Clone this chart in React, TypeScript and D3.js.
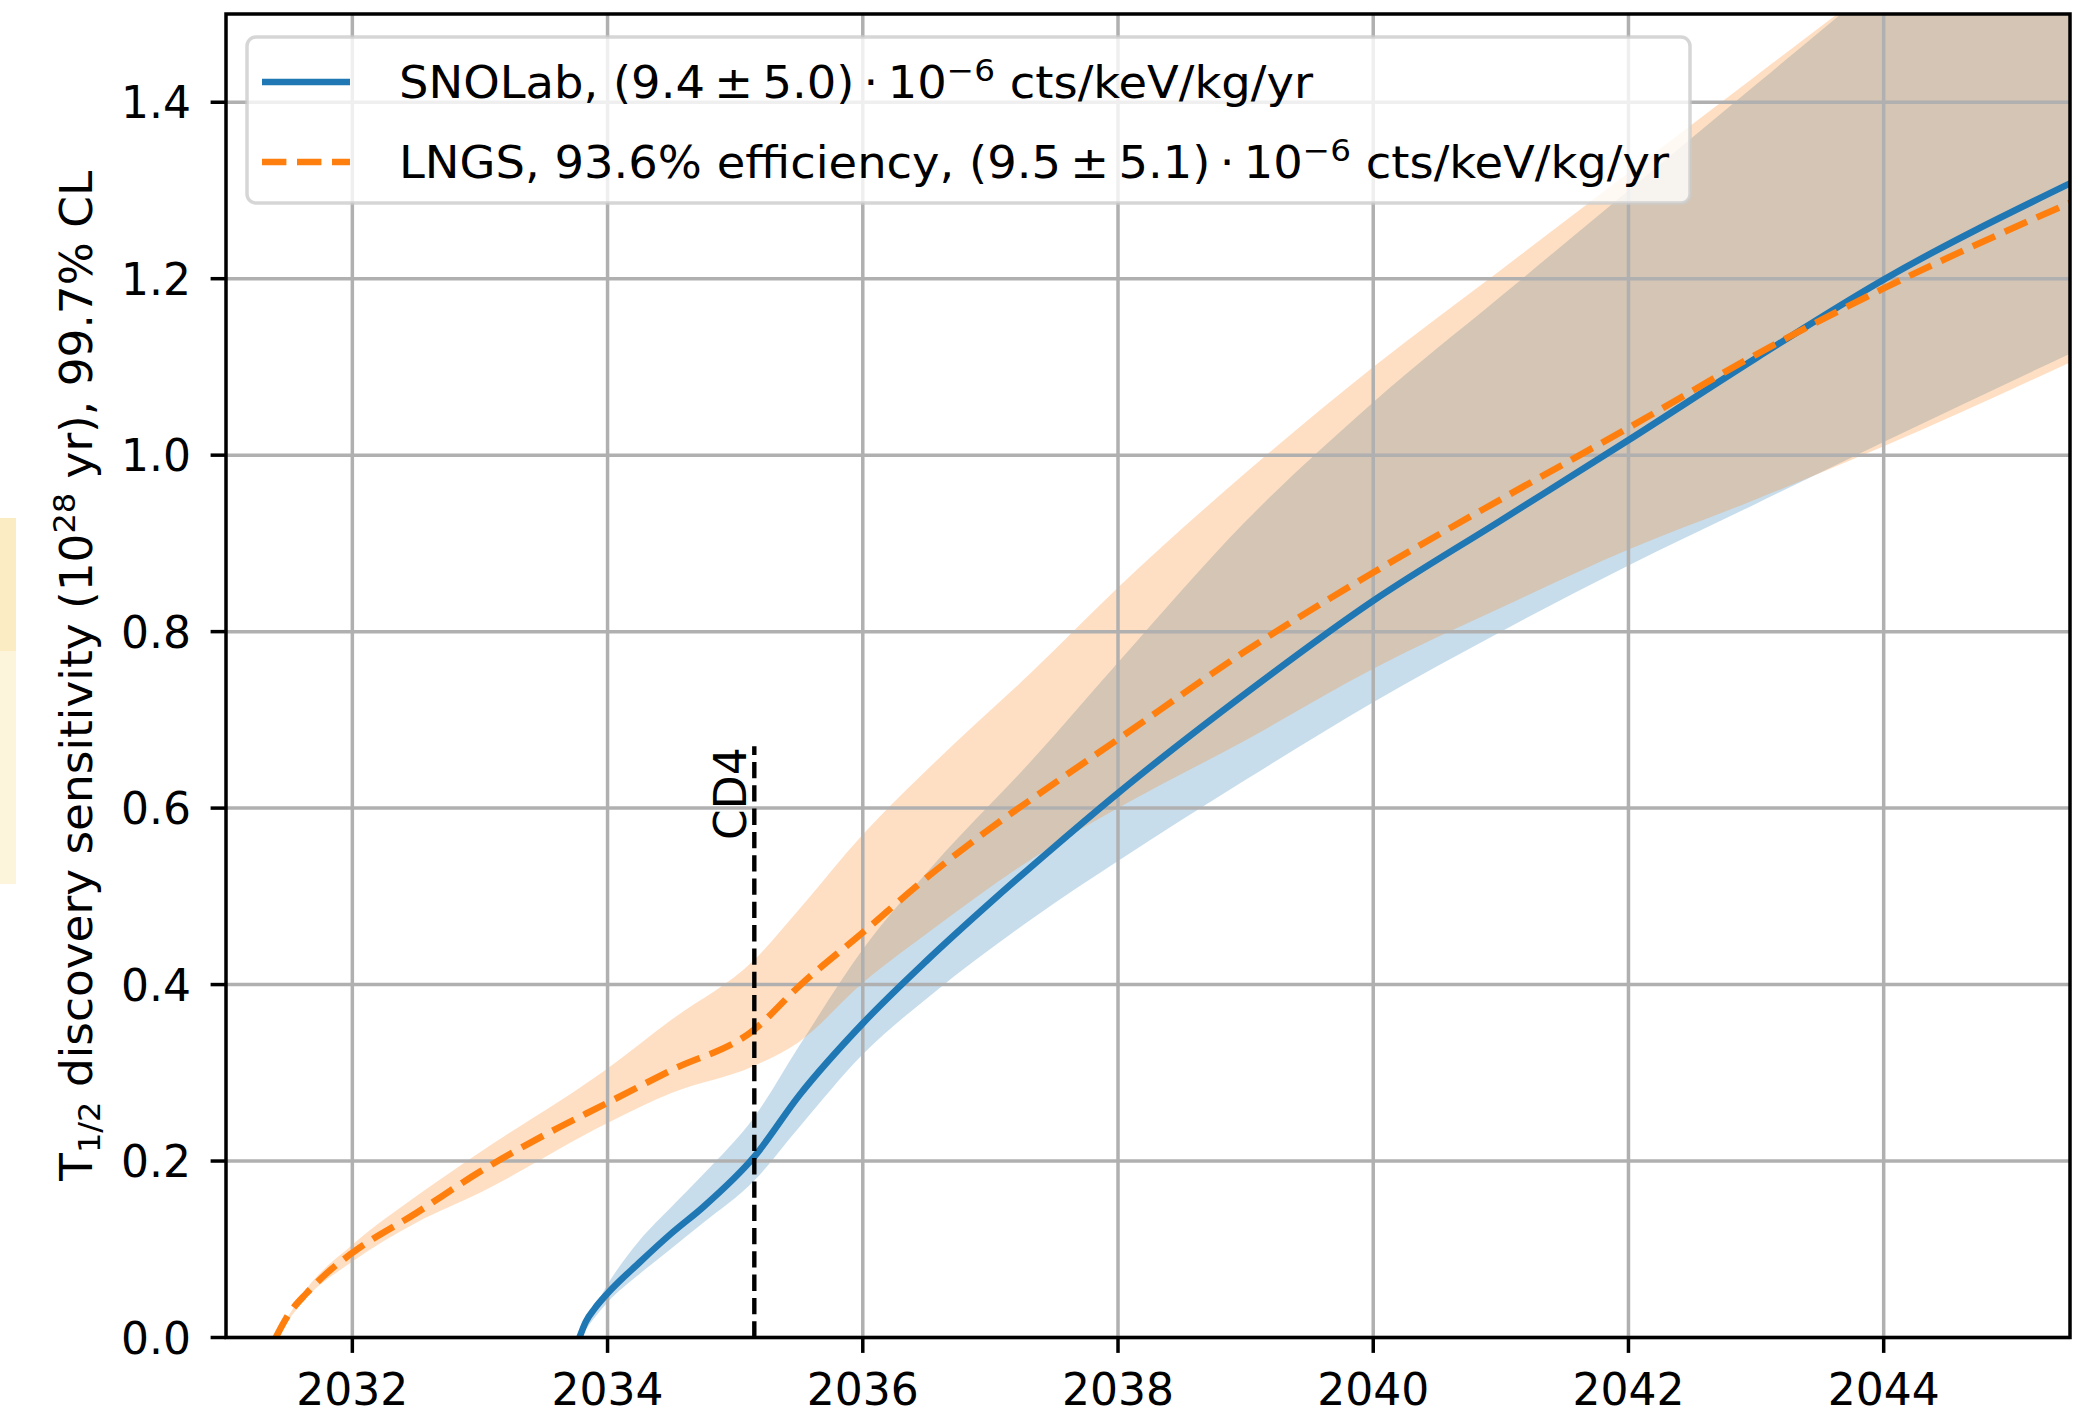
import React from 'react';
import * as d3 from 'd3';

// Central sensitivity curves (10^28 yr) versus calendar year
const snolabYears = [2033.78, 2033.83, 2033.9, 2034.0, 2034.25, 2034.5, 2034.75, 2035.15, 2035.5, 2036.0, 2036.5, 2037.0, 2037.5, 2038.0, 2039.0, 2040.0, 2041.0, 2042.0, 2043.0, 2044.0, 2045.46];
const snolabT = [0, 0.018, 0.033, 0.05, 0.085, 0.118, 0.148, 0.205, 0.274, 0.356, 0.427, 0.493, 0.556, 0.617, 0.73, 0.835, 0.926, 1.017, 1.11, 1.199, 1.308];

const lngsYears = [2031.4, 2031.5, 2031.64, 2031.8, 2032.0, 2032.5, 2033.0, 2033.5, 2034.0, 2034.5, 2035.15, 2035.5, 2036.0, 2036.5, 2037.0, 2037.5, 2038.0, 2039.0, 2040.0, 2041.0, 2042.0, 2043.0, 2044.0, 2045.46];
const lngsT = [0, 0.026, 0.05, 0.073, 0.096, 0.141, 0.188, 0.229, 0.266, 0.303, 0.349, 0.398, 0.459, 0.521, 0.577, 0.628, 0.678, 0.778, 0.867, 0.95, 1.031, 1.114, 1.189, 1.286];

// Uncertainty bands from the background-index range
const snolabBandYears = [2033.78, 2034.0, 2034.25, 2034.5, 2034.75, 2035.15, 2035.5, 2036.0, 2036.55, 2037.33, 2038.0, 2039.0, 2040.0, 2041.0, 2042.0, 2043.0, 2044.0, 2045.46];
const snolabHigh = [0, 0.06, 0.11, 0.148, 0.185, 0.25, 0.33, 0.44, 0.535, 0.655, 0.765, 0.925, 1.06, 1.18, 1.3, 1.42, 1.54, 1.71];
const snolabLow = [0, 0.04, 0.072, 0.101, 0.13, 0.178, 0.238, 0.321, 0.39, 0.475, 0.54, 0.632, 0.72, 0.8, 0.875, 0.945, 1.015, 1.115];

const lngsBandYears = [2031.4, 2031.64, 2032.0, 2032.5, 2033.0, 2034.0, 2034.5, 2035.15, 2035.5, 2036.0, 2036.55, 2037.33, 2038.0, 2039.0, 2040.0, 2041.0, 2042.0, 2043.0, 2044.0, 2045.46];
const lngsHigh = [0, 0.055, 0.105, 0.16, 0.21, 0.305, 0.36, 0.428, 0.485, 0.57, 0.65, 0.755, 0.85, 0.98, 1.1, 1.21, 1.32, 1.43, 1.54, 1.7];
const lngsLow = [0, 0.045, 0.086, 0.13, 0.164, 0.243, 0.277, 0.308, 0.335, 0.402, 0.463, 0.543, 0.6, 0.677, 0.758, 0.827, 0.893, 0.95, 1.01, 1.105];

// CD4 milestone marker
const cd4Year = 2035.15;
const cd4Top = 0.67;

const xTicks = [2032, 2034, 2036, 2038, 2040, 2042, 2044];
const yTicks = [0, 0.2, 0.4, 0.6, 0.8, 1.0, 1.2, 1.4];
const xDomain: [number, number] = [2031.01, 2045.46];
const yDomain: [number, number] = [0, 1.5];

const BLUE = '#1f77b4';
const ORANGE = '#ff7f0e';
const FONT = 'DejaVu Sans';
const FS = 44;

const W = 2084;
const H = 1412;
const plot = { left: 226, right: 2070, top: 14, bottom: 1337.5 };

export default function App() {
  const x = d3.scaleLinear().domain(xDomain).range([plot.left, plot.right]);
  const y = d3.scaleLinear().domain(yDomain).range([plot.bottom, plot.top]);

  const line = d3
    .line<[number, number]>()
    .x((d) => x(d[0]))
    .y((d) => y(d[1]))
    .curve(d3.curveMonotoneX);

  const area = d3
    .area<[number, number, number]>()
    .x((d) => x(d[0]))
    .y0((d) => y(d[1]))
    .y1((d) => y(d[2]))
    .curve(d3.curveMonotoneX);

  const snolabLine = line(snolabYears.map((yr, i) => [yr, snolabT[i]] as [number, number])) || '';
  const lngsLine = line(lngsYears.map((yr, i) => [yr, lngsT[i]] as [number, number])) || '';
  const snolabArea =
    area(snolabBandYears.map((yr, i) => [yr, snolabLow[i], snolabHigh[i]] as [number, number, number])) || '';
  const lngsArea =
    area(lngsBandYears.map((yr, i) => [yr, lngsLow[i], lngsHigh[i]] as [number, number, number])) || '';

  const gridW = 3.5;
  const tickLen = 15.4;

  // legend geometry
  const lg = { x: 247, y: 37, w: 1443, h: 166 };
  const row1 = 82;
  const row2 = 162;
  const handleX0 = 262;
  const handleX1 = 350;
  const textX = 399;

  return (
    <svg
      width={W}
      height={H}
      viewBox={`0 0 ${W} ${H}`}
      style={{ position: 'absolute', left: 0, top: 0, background: '#fff' }}
      fontFamily={FONT}
    >
      <defs>
        <clipPath id="plotClip">
          <rect x={plot.left} y={plot.top} width={plot.right - plot.left} height={plot.bottom - plot.top} />
        </clipPath>
      </defs>
      <rect x={0} y={0} width={W} height={H} fill="#ffffff" />

      {/* faint strip on the left margin */}
      <rect x={0} y={518} width={16} height={133} fill="#fcecc3" />
      <rect x={0} y={651} width={16} height={233} fill="#fdf4dc" />

      {/* uncertainty bands */}
      <g clipPath="url(#plotClip)">
        <path d={snolabArea} fill={BLUE} fillOpacity={0.25} stroke="none" />
        <path d={lngsArea} fill={ORANGE} fillOpacity={0.25} stroke="none" />
      </g>

      {/* grid */}
      <g>
        {xTicks.map((t) => (
          <line key={`gx${t}`} x1={x(t)} x2={x(t)} y1={plot.top} y2={plot.bottom} stroke="#b0b0b0" strokeWidth={gridW} />
        ))}
        {yTicks.map((t) => (
          <line key={`gy${t}`} x1={plot.left} x2={plot.right} y1={y(t)} y2={y(t)} stroke="#b0b0b0" strokeWidth={gridW} />
        ))}
      </g>

      {/* central curves */}
      <g clipPath="url(#plotClip)">
        <path d={snolabLine} fill="none" stroke={BLUE} strokeWidth={6.6} />
        <path d={lngsLine} fill="none" stroke={ORANGE} strokeWidth={6.6} strokeDasharray="24.4 10.6" />
        <line
          x1={x(cd4Year)}
          x2={x(cd4Year)}
          y1={y(0)}
          y2={y(cd4Top)}
          stroke="#000"
          strokeWidth={4.4}
          strokeDasharray="16.3 7"
        />
      </g>
      <text
        transform={`translate(${x(cd4Year) - 8},${y(cd4Top) + 1}) rotate(-90)`}
        textAnchor="end"
        fontSize={FS}
        fill="#000"
      >
        CD4
      </text>

      {/* spines */}
      <rect
        x={plot.left}
        y={plot.top}
        width={plot.right - plot.left}
        height={plot.bottom - plot.top}
        fill="none"
        stroke="#000"
        strokeWidth={3.5}
      />

      {/* x ticks */}
      {xTicks.map((t) => (
        <g key={`xt${t}`}>
          <line x1={x(t)} x2={x(t)} y1={plot.bottom} y2={plot.bottom + tickLen} stroke="#000" strokeWidth={3.5} />
          <text x={x(t)} y={1405} textAnchor="middle" fontSize={FS} fill="#000">
            {t}
          </text>
        </g>
      ))}

      {/* y ticks */}
      {yTicks.map((t) => (
        <g key={`yt${t}`}>
          <line x1={plot.left - tickLen} x2={plot.left} y1={y(t)} y2={y(t)} stroke="#000" strokeWidth={3.5} />
          <text x={191} y={y(t) + 16} textAnchor="end" fontSize={FS} fill="#000">
            {t.toFixed(1)}
          </text>
        </g>
      ))}

      {/* y axis label */}
      <text
        transform={`translate(92,${(plot.top + plot.bottom) / 2}) rotate(-90)`}
        textAnchor="middle"
        fontSize={FS}
        fill="#000"
        textLength={1010}
        lengthAdjust="spacingAndGlyphs"
      >
        T
        <tspan fontSize={31} dy={8}>
          1/2
        </tspan>
        <tspan dy={-8}> discovery sensitivity (10</tspan>
        <tspan fontSize={31} dy={-17}>
          28
        </tspan>
        <tspan dy={17}> yr), 99.7% CL</tspan>
      </text>

      {/* legend */}
      <g>
        <rect
          x={lg.x}
          y={lg.y}
          width={lg.w}
          height={lg.h}
          rx={9}
          ry={9}
          fill="#ffffff"
          fillOpacity={0.8}
          stroke="#cccccc"
          strokeOpacity={0.8}
          strokeWidth={3.5}
        />
        <line x1={handleX0} x2={handleX1} y1={row1} y2={row1} stroke={BLUE} strokeWidth={6.6} />
        <line
          x1={handleX0}
          x2={handleX1}
          y1={row2}
          y2={row2}
          stroke={ORANGE}
          strokeWidth={6.6}
          strokeDasharray="24.4 10.6"
        />
        <text x={textX} y={row1 + 16} fontSize={FS} fill="#000" textLength={914} lengthAdjust="spacingAndGlyphs">
          SNOLab, (9.4{'\u2009'}±{'\u2009'}5.0){'\u2009'}·{'\u2009'}10
          <tspan fontSize={31} dy={-17}>
            −6
          </tspan>
          <tspan dy={17}> cts/keV/kg/yr</tspan>
        </text>
        <text x={textX} y={row2 + 16} fontSize={FS} fill="#000" textLength={1270} lengthAdjust="spacingAndGlyphs">
          LNGS, 93.6% efficiency, (9.5{'\u2009'}±{'\u2009'}5.1){'\u2009'}·{'\u2009'}10
          <tspan fontSize={31} dy={-17}>
            −6
          </tspan>
          <tspan dy={17}> cts/keV/kg/yr</tspan>
        </text>
      </g>
    </svg>
  );
}
